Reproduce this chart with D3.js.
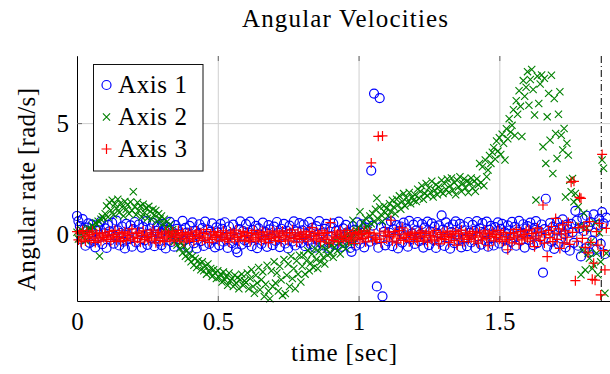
<!DOCTYPE html>
<html>
<head>
<meta charset="utf-8">
<script src="https://cdn.jsdelivr.net/npm/d3@7"></script>
<style>
  body { margin: 0; background: #fff; }
  text { font-family: "Liberation Serif", "DejaVu Serif", serif; fill: #000; }
</style>
</head>
<body>
<div id="chart"></div>
<script>

// sample times [sec]
var time = [
  0,0.005,0.01,0.015,0.02,0.025,0.03,0.035,0.04,0.045,0.05,0.055,0.06,0.065,0.07,0.075,0.08,0.085,0.09,0.095,
  0.1,0.105,0.11,0.115,0.12,0.125,0.13,0.135,0.14,0.145,0.15,0.155,0.16,0.165,0.17,0.175,0.18,0.185,0.19,0.195,
  0.2,0.205,0.21,0.215,0.22,0.225,0.23,0.235,0.24,0.245,0.25,0.255,0.26,0.265,0.27,0.275,0.28,0.285,0.29,0.295,
  0.3,0.305,0.31,0.315,0.32,0.325,0.33,0.335,0.34,0.345,0.35,0.355,0.36,0.365,0.37,0.375,0.38,0.385,0.39,0.395,
  0.4,0.405,0.41,0.415,0.42,0.425,0.43,0.435,0.44,0.445,0.45,0.455,0.46,0.465,0.47,0.475,0.48,0.485,0.49,0.495,
  0.5,0.505,0.51,0.515,0.52,0.525,0.53,0.535,0.54,0.545,0.55,0.555,0.56,0.565,0.57,0.575,0.58,0.585,0.59,0.595,
  0.6,0.605,0.61,0.615,0.62,0.625,0.63,0.635,0.64,0.645,0.65,0.655,0.66,0.665,0.67,0.675,0.68,0.685,0.69,0.695,
  0.7,0.705,0.71,0.715,0.72,0.725,0.73,0.735,0.74,0.745,0.75,0.755,0.76,0.765,0.77,0.775,0.78,0.785,0.79,0.795,
  0.8,0.805,0.81,0.815,0.82,0.825,0.83,0.835,0.84,0.845,0.85,0.855,0.86,0.865,0.87,0.875,0.88,0.885,0.89,0.895,
  0.9,0.905,0.91,0.915,0.92,0.925,0.93,0.935,0.94,0.945,0.95,0.955,0.96,0.965,0.97,0.975,0.98,0.985,0.99,0.995,
  1,1.005,1.01,1.015,1.02,1.025,1.03,1.035,1.04,1.045,1.05,1.055,1.06,1.065,1.07,1.075,1.08,1.085,1.09,1.095,
  1.1,1.105,1.11,1.115,1.12,1.125,1.13,1.135,1.14,1.145,1.15,1.155,1.16,1.165,1.17,1.175,1.18,1.185,1.19,1.195,
  1.2,1.205,1.21,1.215,1.22,1.225,1.23,1.235,1.24,1.245,1.25,1.255,1.26,1.265,1.27,1.275,1.28,1.285,1.29,1.295,
  1.3,1.305,1.31,1.315,1.32,1.325,1.33,1.335,1.34,1.345,1.35,1.355,1.36,1.365,1.37,1.375,1.38,1.385,1.39,1.395,
  1.4,1.405,1.41,1.415,1.42,1.425,1.43,1.435,1.44,1.445,1.45,1.455,1.46,1.465,1.47,1.475,1.48,1.485,1.49,1.495,
  1.5,1.505,1.51,1.515,1.52,1.525,1.53,1.535,1.54,1.545,1.55,1.555,1.56,1.565,1.57,1.575,1.58,1.585,1.59,1.595,
  1.6,1.605,1.61,1.615,1.62,1.625,1.63,1.635,1.64,1.645,1.65,1.655,1.66,1.665,1.67,1.675,1.68,1.685,1.69,1.695,
  1.7,1.705,1.71,1.715,1.72,1.725,1.73,1.735,1.74,1.745,1.75,1.755,1.76,1.765,1.77,1.775,1.78,1.785,1.79,1.795,
  1.8,1.805,1.81,1.815,1.82,1.825,1.83,1.835,1.84,1.845,1.85,1.855,1.86,1.865,1.87,1.875,1.88
];

// angular rate [rad/s], axis 1
var axis1 = [
  0.85,0.62,0.4,-0.2,0.71,0.25,-0.48,0.33,0.52,-0.35,0.1,0.47,-0.26,-0.55,0.18,0.39,-0.12,0.6,-0.41,0.07,
  0.3,-0.58,0.45,0.16,-0.22,0.55,-0.39,-0.05,0.64,0.21,-0.47,0.09,0.38,-0.3,-0.6,0.5,0.02,-0.18,0.43,-0.52,
  0.26,0.58,-0.33,-0.1,0.47,0.12,-0.56,0.35,-0.24,0.62,-0.44,0.05,0.29,-0.15,0.54,-0.5,0.19,0.4,-0.28,0.08,
  -0.45,0.5,0.23,-0.6,0.36,-0.08,0.59,-0.31,0.14,-0.52,0.44,0.27,-0.19,0.03,-0.42,0.63,-0.25,0.32,0.11,-0.57,
  0.41,-0.14,0.56,-0.37,0.2,-0.6,0.06,0.48,-0.27,0.31,-0.49,0.6,-0.04,0.24,-0.4,0.15,0.52,-0.21,-0.55,0.34,
  0.12,-0.46,0.5,0.28,-0.3,0.57,-0.09,-0.58,0.38,0.04,-0.36,0.46,-0.17,-0.62,-0.78,0.26,0.61,-0.43,0.17,-0.23,
  0.49,-0.32,0.09,0.6,-0.5,0.22,-0.13,0.41,-0.59,0.3,0.02,-0.4,0.55,-0.2,0.13,-0.53,0.44,0.25,-0.07,-0.45,
  0.37,-0.26,0.58,0.11,-0.54,0.28,-0.02,0.5,-0.38,0.19,-0.6,0.42,0.07,-0.29,0.61,-0.47,0.16,-0.11,0.53,-0.35,
  0.21,0.47,-0.5,0.04,-0.24,0.59,-0.41,0.32,0.14,-0.57,0.4,-0.16,0.62,-0.33,0.08,-0.46,0.27,0.5,-0.2,-0.6,
  0.35,-0.07,0.52,-0.44,0.18,-0.25,0.6,0.03,-0.53,0.3,-0.36,0.45,0.12,-0.15,-0.58,-0.75,0.39,0.23,-0.48,0.56,
  0.06,-0.39,0.48,0.2,-0.55,0.33,-0.12,0.57,-0.3,2.88,0.42,6.32,-0.2,-2.3,-0.57,6.12,0.35,-2.74,0.14,-0.46,
  0.52,-0.28,0.1,0.61,-0.5,0.25,-0.09,0.44,-0.6,0.17,0.38,-0.34,0.55,-0.02,0.29,-0.52,0.63,-0.18,0.07,0.46,
  -0.4,0.21,0.58,-0.27,0.04,0.49,-0.56,0.33,-0.13,0.6,-0.45,0.16,0.52,-0.22,0.37,-0.58,0.09,0.43,-0.31,0.88,
  0.24,-0.49,0.56,-0.1,0.34,-0.61,0.13,0.47,-0.36,0.61,0.02,-0.24,0.5,-0.55,0.2,0.39,-0.15,-0.5,0.58,0.1,
  -0.33,0.45,0.18,-0.58,0.62,-0.06,0.3,-0.43,0.53,0.08,-0.26,0.6,-0.52,0.23,0.41,-0.14,-0.47,0.35,0.01,0.56,
  -0.38,0.27,0.5,-0.19,0.12,-0.6,0.43,0.2,-0.31,0.59,-0.09,0.36,-0.48,0.15,0.63,-0.25,0.05,0.48,-0.56,0.29,
  0.4,-0.22,0.55,0.1,-0.45,0.32,0.62,-0.36,0.18,-0.1,0.47,-1.68,0.26,1.62,-0.52,0.07,0.53,-0.3,0.36,-0.62,
  0.21,0.58,-0.4,0.33,-0.15,0.7,0.04,-0.55,0.46,0.25,-0.7,0.5,0.12,-0.35,1.08,0.64,-0.48,0.3,-0.96,0.75,
  0.18,-0.6,0.86,0.36,-0.78,0.58,-0.25,0.92,0.1,-0.66,0.45,0.72,-0.4,1.02,0.52,-0.85,0.78
];

// angular rate [rad/s], axis 2
var axis2 = [
  0.12,-0.18,0.05,0.22,-0.1,0.15,-0.25,0.08,0.3,0.18,0.26,0.4,0.35,0.55,0.48,0.62,-0.94,0.7,0.82,0.76,
  0.95,1.3,0.8,1.45,1.1,1.55,0.9,1.38,1.2,1.6,1.0,1.42,1.25,0.85,1.5,1.15,1.35,0.95,1.48,1.1,
  1.93,1.25,0.9,1.45,1.1,1.3,0.8,1.38,1.0,1.2,0.75,1.28,1.05,0.7,1.15,0.9,1.1,0.6,0.95,0.72,
  0.85,0.5,0.7,0.3,0.6,0.15,0.45,-0.05,0.25,-0.3,0.1,-0.45,-0.2,-0.6,-0.35,-0.8,-0.5,-0.95,-0.7,-1.05,
  -0.85,-1.2,-0.95,-1.35,-1.05,-1.45,-1.15,-1.3,-1.55,-1.2,-1.6,-1.4,-1.75,-1.3,-1.65,-1.5,-1.85,-1.55,-1.7,-1.95,
  -1.6,-1.9,-1.75,-2.1,-1.65,-2.0,-1.85,-2.25,-1.7,-2.05,-1.95,-2.3,-1.8,-2.15,-1.9,-2.4,-2.0,-1.75,-2.25,-2.05,
  -2.12,-1.7,-2.4,-1.95,-1.55,-2.3,-2.6,-1.8,-2.15,-1.45,-2.45,-2.0,-1.65,-2.75,-2.2,-1.35,-2.5,-2.85,-1.6,-2.3,
  -1.2,-2.15,-1.7,-2.5,-1.4,-2.0,-2.7,-1.1,-2.62,-1.8,-1.3,-2.3,-0.95,-1.95,-1.5,-2.4,-1.15,-1.75,-0.9,-2.1,
  -1.4,-0.9,-1.75,-1.15,-0.7,-1.6,-1.25,-0.85,-1.45,-0.6,-1.1,-1.5,-0.75,-1.2,-0.5,-1.0,-1.3,-0.65,-0.9,-0.4,
  -0.8,-0.45,-1.0,-0.55,-0.25,-0.7,-0.35,-0.85,-0.1,-0.5,-0.2,-0.6,0.05,-0.35,0.15,-0.15,0.66,-0.3,0.25,0.0,
  0.3,1.04,0.1,0.55,0.25,0.75,0.4,0.2,0.85,0.5,0.95,0.6,1.15,1.64,0.7,1.25,0.9,0.6,1.3,1.0,
  1.2,0.85,1.4,1.05,1.55,1.25,0.95,1.6,1.35,1.75,1.15,1.5,1.85,1.3,1.65,1.45,1.9,1.4,1.7,1.55,
  1.8,1.5,2.05,1.65,1.95,2.2,1.6,1.85,2.3,1.75,2.1,1.9,2.4,1.7,2.0,2.25,1.8,2.15,1.95,2.45,
  1.85,2.3,2.05,2.5,1.9,2.2,2.55,2.0,2.35,1.8,2.45,2.15,2.6,1.95,2.3,2.5,2.1,2.4,1.9,2.35,
  2.55,2.1,2.4,1.95,2.5,2.25,3.2,2.35,3.05,2.2,3.35,2.6,2.9,3.55,3.2,3.7,3.9,3.4,4.2,3.75,
  4.35,3.6,4.5,4.1,3.35,4.75,4.3,5.2,4.6,4.9,5.6,4.45,6.0,5.4,6.45,5.75,4.4,6.9,6.2,6.6,
  7.3,5.8,6.95,7.4,6.5,5.36,1.56,7.1,5.88,6.75,7.15,3.94,7.0,3.2,5.28,6.33,4.24,7.14,2.75,6.1,
  4.54,3.42,5.4,6.4,4.46,3.8,4.76,1.7,4.1,3.57,2.45,1.93,2.53,1.48,1.86,1.64,1.26,0.4,-1.78,-0.67,
  0.97,-1.56,0.3,-0.82,-1.04,-0.3,-1.5,-1.34,0.55,-0.82,-1.78,0.1,-1.2,3.35,2.98,-2.6,-0.82
];

// angular rate [rad/s], axis 3
var axis3 = [
  0.15,-0.22,0.08,-0.31,0.2,-0.05,-0.27,0.12,-0.14,0.03,-0.24,0.18,-0.09,-0.33,0.06,-0.17,0.1,-0.26,0.0,-0.12,
  0.09,-0.2,-0.04,0.16,-0.29,0.02,-0.13,0.21,-0.23,-0.07,0.11,-0.3,0.05,-0.16,0.14,-0.25,-0.02,0.08,-0.19,0.27,
  -0.1,-0.28,0.07,-0.15,0.13,-0.32,-0.03,0.19,-0.21,0.04,-0.12,-0.26,0.1,-0.06,0.22,-0.18,-0.35,0.01,0.12,-0.24,
  0.05,-0.14,-0.3,0.17,-0.08,0.09,-0.22,-0.01,0.14,-0.27,0.06,-0.11,0.2,-0.19,-0.04,0.11,-0.31,0.03,-0.16,0.08,
  -0.23,0.13,-0.07,-0.29,0.02,0.18,-0.15,-0.05,0.1,-0.25,0.07,-0.18,0.24,-0.1,-0.33,0.04,-0.2,0.15,-0.02,-0.12,
  0.11,-0.26,0.01,-0.09,0.19,-0.21,0.06,-0.14,-0.31,0.13,-0.04,0.08,-0.19,0.22,-0.11,-0.28,0.05,-0.07,0.16,-0.24,
  -0.03,0.12,-0.17,-0.3,0.07,-0.1,0.2,-0.22,0.03,-0.13,0.1,-0.27,0.14,-0.06,-0.2,0.09,-0.34,0.02,-0.15,0.17,
  -0.08,-0.24,0.13,-0.12,0.05,-0.29,0.18,-0.04,-0.19,0.08,-0.26,0.11,-0.1,0.23,-0.16,-0.01,-0.32,0.1,-0.07,0.04,
  -0.2,0.14,-0.11,0.02,-0.28,0.16,-0.05,0.33,-0.17,0.06,-0.23,0.1,-0.02,-0.3,0.19,-0.13,0.07,-0.21,0.12,-0.36,
  0.55,-0.09,-0.25,0.13,-0.14,0.04,-0.3,0.18,-0.06,-0.2,0.09,-0.12,0.21,-0.27,0.0,-0.17,0.11,-0.38,0.06,-0.1,
  0.14,-0.22,0.03,-0.15,0.19,-0.31,0.07,-0.08,0.12,3.22,-0.26,0.05,-0.13,-0.2,4.41,0.09,-0.33,4.43,-0.04,0.17,
  -0.18,0.1,-0.06,0.66,-0.27,0.02,0.15,-0.35,-0.09,0.2,-0.16,0.32,-0.24,0.04,-0.12,0.08,-0.3,-0.02,0.13,-0.21,
  0.06,-0.14,-0.29,0.11,-0.05,0.18,-0.23,-0.1,0.07,-0.32,0.14,-0.03,-0.19,0.09,-0.26,0.2,-0.08,-0.4,0.03,-0.15,
  0.12,-0.21,-0.06,0.17,-0.34,0.02,-0.12,0.08,-0.25,0.15,-0.45,0.05,-0.17,0.22,-0.09,-0.3,0.1,-0.02,-0.2,0.07,
  -0.13,0.16,-0.28,-0.04,0.09,-0.36,0.13,-0.1,-0.22,0.05,0.19,-0.16,-0.48,0.08,-0.07,0.14,-0.26,0.02,-0.11,0.21,
  -0.19,0.04,-0.3,0.12,-0.27,-0.08,-0.66,-0.2,0.07,-0.35,0.1,-0.13,0.25,-0.05,-0.4,0.15,-0.22,0.03,-0.1,0.19,
  -0.14,0.23,-0.28,0.06,-0.17,-0.52,0.1,0.31,-0.09,-0.24,0.14,1.34,-0.36,0.02,-0.97,0.2,-0.12,0.38,-0.3,0.08,
  0.74,-0.2,0.27,-0.6,0.05,0.45,-0.35,0.18,-0.1,0.56,-0.42,2.36,0.12,2.4,-2.04,-0.28,0.33,1.68,1.64,-0.15,
  0.4,-0.55,0.22,-0.8,0.6,-0.33,-1.98,-1.26,-2.02,0.15,-0.45,0.52,-2.68,3.6,-0.7,-1.56,0.3
];

var seriesNames = ["Axis 1", "Axis 2", "Axis 3"];
var xTickValues = [0, 0.5, 1, 1.5];
var xTickLabels = ["0", "0.5", "1", "1.5"];
var yTickValues = [0, 5];
var yTickLabels = ["0", "5"];
var eventTime = [1.862];

var margin = { top: 56, right: 0, bottom: 73, left: 77 };
var width = 610 - margin.left - margin.right;
var height = 374 - margin.top - margin.bottom;

var x = d3.scaleLinear().domain([0, 1.893]).range([0, width]);
var y = d3.scaleLinear().domain([-2.95, 8]).range([height, 0]);

var colors = ["#0000ff", "#008000", "#ff0000"];
var markers = ["circle", "x", "plus"];
var values = [axis1, axis2, axis3];

var root = d3.select("#chart").append("svg")
  .attr("width", 610)
  .attr("height", 374);

var svg = root.append("g")
  .attr("transform", "translate(" + margin.left + "," + margin.top + ")");

// grid lines
var gx = svg.append("g")
  .attr("transform", "translate(0," + height + ")")
  .call(d3.axisBottom(x).tickValues(xTickValues).tickSize(-height).tickFormat(""));
var gy = svg.append("g")
  .call(d3.axisLeft(y).tickValues(yTickValues).tickSize(-width).tickFormat(""));
[gx, gy].forEach(function (g) {
  g.select(".domain").remove();
  g.selectAll("line").attr("stroke", "#cfcfcf").attr("stroke-width", 1);
});

// dash-dotted marker line
svg.selectAll(".event")
  .data(eventTime)
  .enter().append("line")
  .attr("x1", function (d) { return x(d); })
  .attr("x2", function (d) { return x(d); })
  .attr("y1", 0)
  .attr("y2", height)
  .attr("stroke", "#000")
  .attr("stroke-width", 1)
  .attr("stroke-dasharray", "7,3,1,3");

function drawMarker(sel, kind, color) {
  if (kind === "circle") {
    sel.append("circle").attr("r", 4.5)
      .attr("fill", "none").attr("stroke", color).attr("stroke-width", 1.2);
  } else if (kind === "x") {
    sel.append("path").attr("d", "M-3.6,-3.6L3.6,3.6M-3.6,3.6L3.6,-3.6")
      .attr("fill", "none").attr("stroke", color).attr("stroke-width", 1.1);
  } else {
    sel.append("path").attr("d", "M-5,0L5,0M0,-5L0,5")
      .attr("fill", "none").attr("stroke", color).attr("stroke-width", 1.2);
  }
}

// scatter points for each series
values.forEach(function (vals, s) {
  var pts = time.map(function (t, i) { return { t: t, v: vals[i] }; })
    .filter(function (d) { return d.v !== undefined; });
  svg.append("g").selectAll("g")
    .data(pts)
    .enter().append("g")
    .attr("transform", function (d) { return "translate(" + x(d.t) + "," + y(d.v) + ")"; })
    .each(function () { drawMarker(d3.select(this), markers[s], colors[s]); });
});

// add the x Axis
var xAxis = svg.append("g")
  .attr("transform", "translate(0," + height + ")")
  .call(d3.axisBottom(x).tickValues(xTickValues)
    .tickFormat(function (d, i) { return xTickLabels[i]; })
    .tickSizeInner(-5).tickSizeOuter(0).tickPadding(11));

// ticks along the top edge
var topAxis = svg.append("g")
  .call(d3.axisTop(x).tickValues(xTickValues).tickFormat("").tickSizeInner(-5).tickSizeOuter(0));
topAxis.select(".domain").remove();

// add the y Axis
var yAxis = svg.append("g")
  .call(d3.axisLeft(y).tickValues(yTickValues)
    .tickFormat(function (d, i) { return yTickLabels[i]; })
    .tickSizeInner(-5).tickSizeOuter(0).tickPadding(8));

[xAxis, yAxis, topAxis].forEach(function (g) {
  g.select(".domain").attr("stroke", "#000").attr("stroke-width", 1);
  g.selectAll(".tick line").attr("stroke", "#666");
  g.selectAll("text")
    .style("font-family", "'Liberation Serif', 'DejaVu Serif', serif")
    .style("font-size", "25px")
    .attr("fill", "#000");
});

// legend
var legend = svg.append("g").attr("transform", "translate(16.5,8.5)");
legend.append("rect")
  .attr("width", 109.5)
  .attr("height", 106.5)
  .attr("fill", "#fff")
  .attr("stroke", "#111")
  .attr("stroke-width", 1);
var rows = legend.selectAll(".row")
  .data(seriesNames)
  .enter().append("g")
  .attr("transform", function (d, i) { return "translate(0," + (20.5 + i * 32) + ")"; });
rows.each(function (d, i) { drawMarker(d3.select(this).append("g").attr("transform", "translate(13,0)"), markers[i], colors[i]); });
rows.append("text")
  .attr("x", 24.5)
  .attr("y", 8)
  .style("font-size", "25px")
  .style("letter-spacing", "0.6px")
  .text(function (d) { return d; });

// title and axis labels
root.append("text")
  .attr("x", 345).attr("y", 27)
  .attr("text-anchor", "middle")
  .attr("textLength", 206)
  .style("font-size", "25px")
  .text("Angular Velocities");

root.append("text")
  .attr("x", 344).attr("y", 361)
  .attr("text-anchor", "middle")
  .attr("textLength", 106)
  .style("font-size", "25px")
  .text("time [sec]");

root.append("text")
  .attr("transform", "translate(35,189.5) rotate(-90)")
  .attr("text-anchor", "middle")
  .attr("textLength", 203)
  .style("font-size", "25px")
  .text("Angular rate [rad/s]");

</script>
</body>
</html>
